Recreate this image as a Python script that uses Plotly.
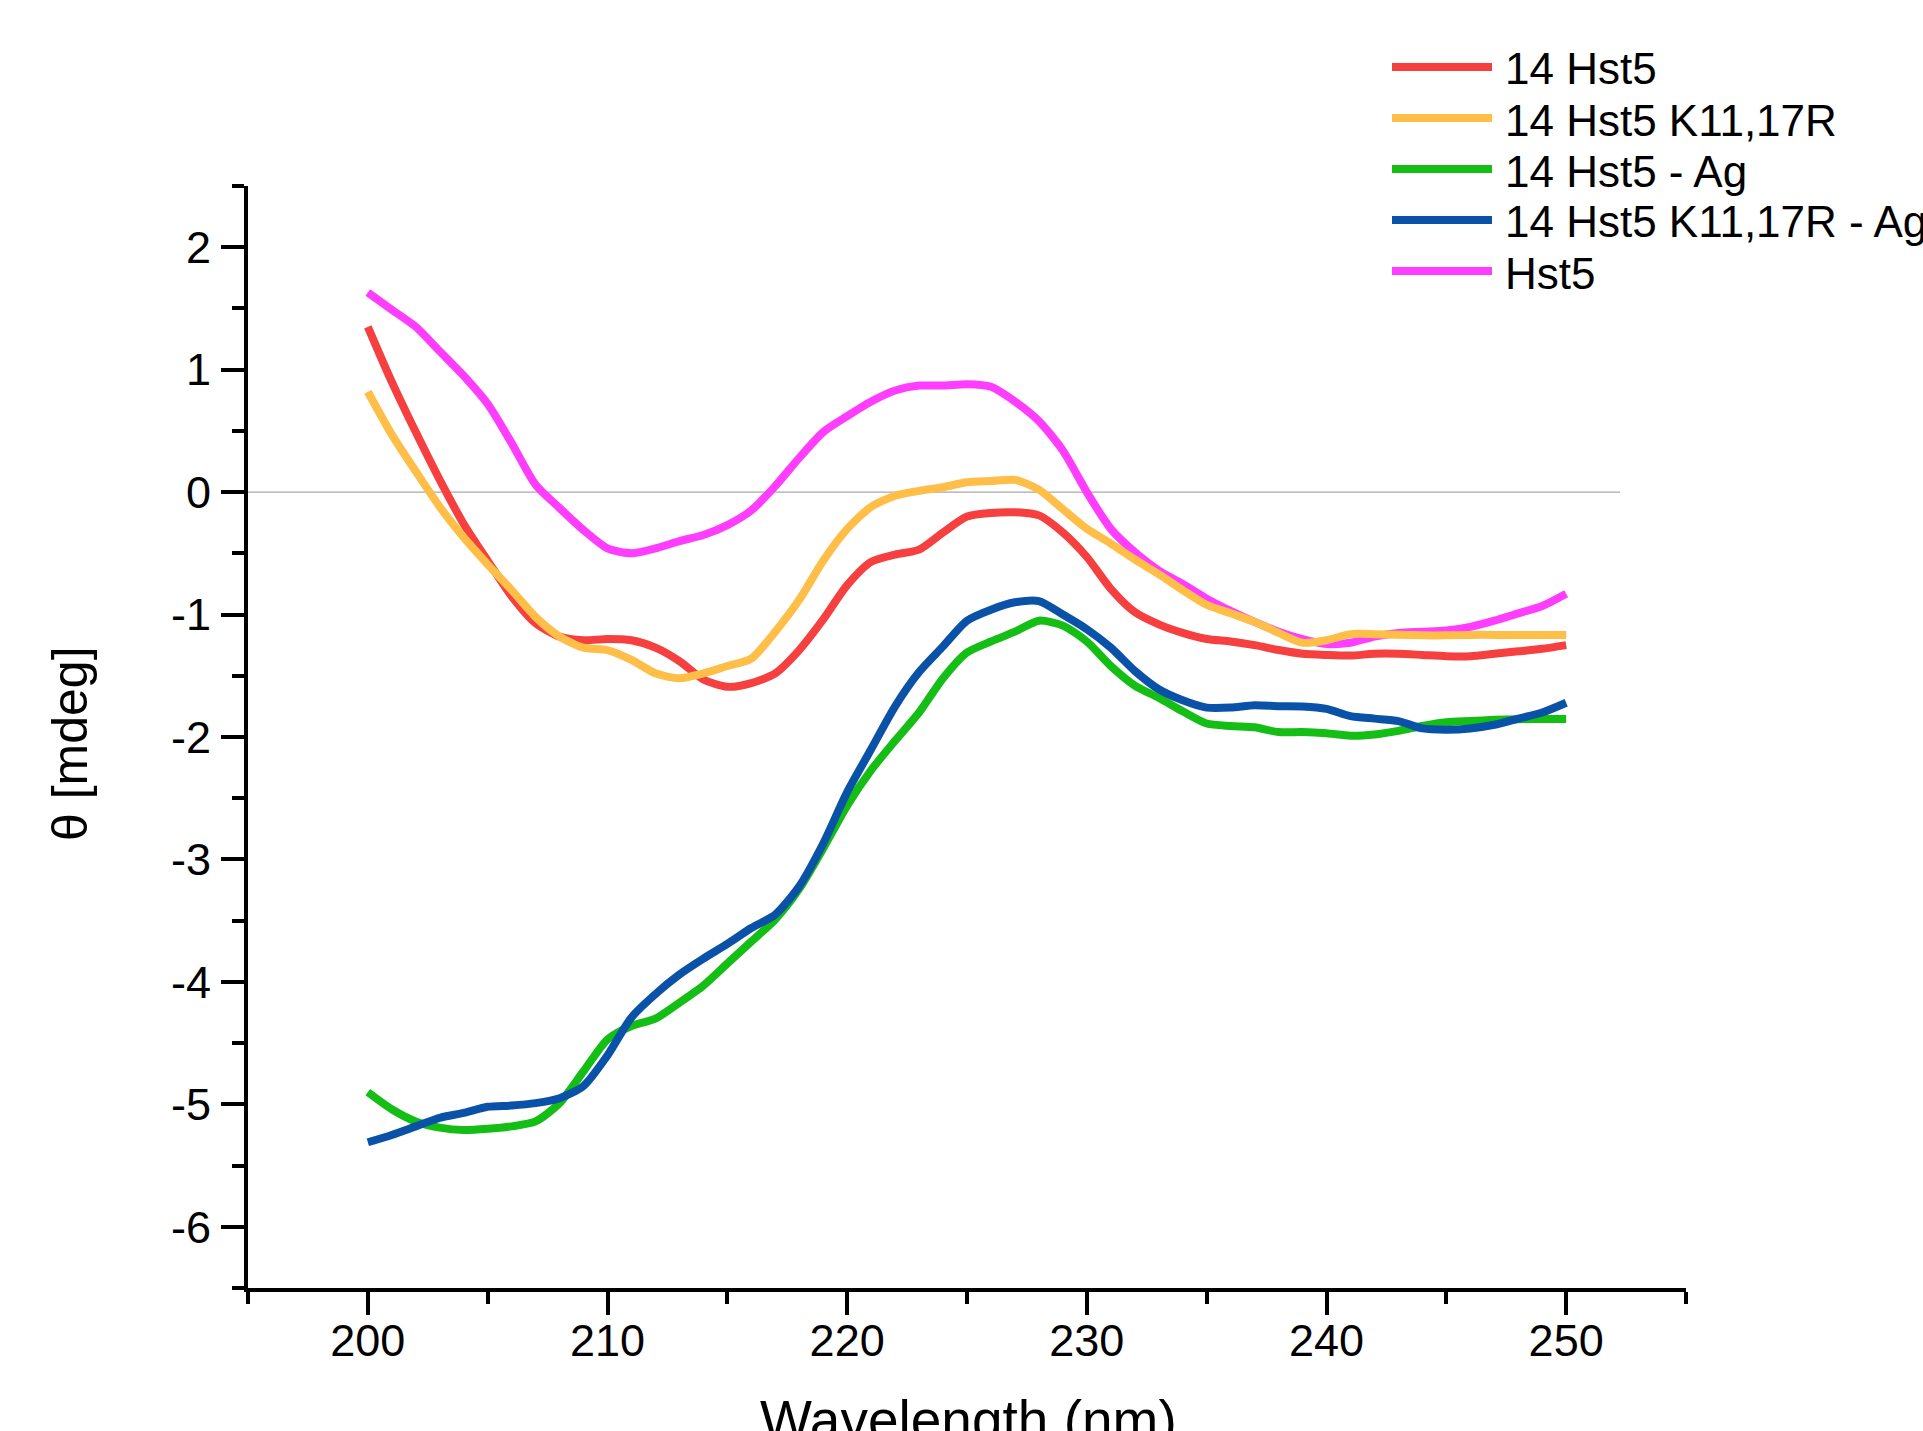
import plotly.graph_objects as go

wavelength = list(range(200, 251))

hst5_14 = [1.35, 0.90, 0.49, 0.10, -0.26, -0.56, -0.85, -1.07, -1.18, -1.21,
           -1.20, -1.21, -1.27, -1.38, -1.53, -1.59, -1.56, -1.48, -1.29, -1.04,
           -0.76, -0.57, -0.51, -0.47, -0.33, -0.20, -0.17, -0.165, -0.19, -0.33,
           -0.53, -0.79, -0.98, -1.08, -1.15, -1.20, -1.22, -1.25, -1.29, -1.32,
           -1.33, -1.335, -1.32, -1.32, -1.33, -1.34, -1.34, -1.32, -1.30, -1.28,
           -1.25]

hst5_14_k = [0.82, 0.47, 0.17, -0.12, -0.37, -0.59, -0.80, -1.02, -1.18, -1.27,
             -1.29, -1.37, -1.48, -1.52, -1.48, -1.42, -1.36, -1.14, -0.88, -0.56,
             -0.30, -0.12, -0.03, 0.01, 0.04, 0.08, 0.09, 0.10, 0.02, -0.14,
             -0.30, -0.42, -0.55, -0.67, -0.80, -0.92, -0.99, -1.06, -1.15, -1.23,
             -1.21, -1.16, -1.16, -1.165, -1.17, -1.17, -1.166, -1.166, -1.166, -1.166,
             -1.166]

hst5_14_ag = [-4.90, -5.04, -5.14, -5.19, -5.21, -5.20, -5.18, -5.14, -4.99, -4.73,
              -4.47, -4.36, -4.30, -4.17, -4.03, -3.85, -3.67, -3.49, -3.24, -2.91,
              -2.56, -2.27, -2.03, -1.80, -1.52, -1.31, -1.22, -1.14, -1.05, -1.09,
              -1.22, -1.42, -1.58, -1.68, -1.79, -1.89, -1.91, -1.92, -1.96, -1.96,
              -1.97, -1.99, -1.98, -1.95, -1.91, -1.88, -1.87, -1.86, -1.855, -1.852,
              -1.852]

hst5_14_k_ag = [-5.31, -5.25, -5.18, -5.11, -5.07, -5.02, -5.01, -4.99, -4.95, -4.85,
                -4.60, -4.29, -4.10, -3.94, -3.81, -3.69, -3.56, -3.45, -3.22, -2.87,
                -2.45, -2.10, -1.75, -1.47, -1.26, -1.05, -0.96, -0.90, -0.89, -1.00,
                -1.12, -1.27, -1.46, -1.61, -1.70, -1.76, -1.76, -1.74, -1.748, -1.75,
                -1.77, -1.83, -1.85, -1.87, -1.93, -1.94, -1.93, -1.90, -1.85, -1.80,
                -1.72]

hst5 = [1.63, 1.49, 1.35, 1.15, 0.95, 0.72, 0.40, 0.06, -0.13, -0.31,
        -0.46, -0.50, -0.46, -0.40, -0.35, -0.27, -0.15, 0.05, 0.28, 0.49,
        0.62, 0.74, 0.83, 0.87, 0.87, 0.88, 0.86, 0.74, 0.58, 0.34,
        0.00, -0.30, -0.49, -0.64, -0.75, -0.87, -0.97, -1.06, -1.14, -1.20,
        -1.24, -1.23, -1.18, -1.15, -1.14, -1.13, -1.10, -1.05, -0.99, -0.93,
        -0.83]

series_names = ["14 Hst5", "14 Hst5 K11,17R", "14 Hst5 - Ag", "14 Hst5 K11,17R - Ag", "Hst5"]
series_values = [hst5_14, hst5_14_k, hst5_14_ag, hst5_14_k_ag, hst5]
series_colors = ["#F5403F", "#FEBE47", "#14BE14", "#0A52A8", "#FF3DFF"]

x_ticks = [200, 210, 220, 230, 240, 250]
x_minor = [195, 205, 215, 225, 235, 245, 255]
y_ticks = [2, 1, 0, -1, -2, -3, -4, -5, -6]
y_minor = [2.5, 1.5, 0.5, -0.5, -1.5, -2.5, -3.5, -4.5, -5.5, -6.5]

FONT = "Liberation Sans, Arial, sans-serif"

fig = go.Figure()
draw_order = [4, 0, 1, 2, 3]
for i in draw_order:
    fig.add_trace(go.Scatter(
        x=wavelength, y=series_values[i], name=series_names[i], mode="lines",
        line=dict(color=series_colors[i], width=8, shape="spline", smoothing=0.7),
        showlegend=False,
    ))

# zero line
fig.add_shape(type="line", xref="x", yref="y", x0=195, x1=252.25, y0=0, y1=0,
              line=dict(color="#A8A8A8", width=1.2), layer="below")

# manual legend
W, H = 1923, 1431
L, R, T, B = 248, 237, 186, 143
pw, ph = W - L - R, H - T - B
def px(xpix):
    return (xpix - L) / pw
def py(ypix):
    return (H - B - ypix) / ph

leg_y = [67, 118, 169, 220, 271]
for name, col, yy in zip(series_names, series_colors, leg_y):
    fig.add_shape(type="line", xref="paper", yref="paper",
                  x0=px(1392), x1=px(1492), y0=py(yy), y1=py(yy),
                  line=dict(color=col, width=8))
    fig.add_annotation(xref="paper", yref="paper", x=px(1503), y=py(yy + 2),
                       text=name, showarrow=False, xanchor="left", yanchor="middle",
                       font=dict(family=FONT, size=44, color="black"))

# axis titles
fig.add_annotation(xref="paper", yref="paper", x=px(70), y=py(744),
                   text="θ [mdeg]", textangle=-90, showarrow=False,
                   xanchor="center", yanchor="middle",
                   font=dict(family=FONT, size=50, color="black"))
fig.add_annotation(xref="paper", yref="paper", x=px(968), y=py(1420),
                   text="Wavelength (nm)", showarrow=False,
                   xanchor="center", yanchor="middle",
                   font=dict(family=FONT, size=55, color="black"))

fig.update_layout(
    width=W, height=H,
    margin=dict(l=L, r=R, t=T, b=B, autoexpand=False),
    plot_bgcolor="white", paper_bgcolor="white",
    showlegend=False,
    font=dict(family=FONT, color="black"),
)
fig.update_xaxes(
    range=[195, 255], tickmode="array", tickvals=x_ticks, ticktext=[str(v) for v in x_ticks],
    ticks="outside", ticklen=23, tickwidth=4, tickcolor="black",
    showline=True, linewidth=4, linecolor="black", mirror=False,
    showgrid=False, zeroline=False,
    tickfont=dict(family=FONT, size=45, color="black"),
    ticklabelstandoff=-13,
    minor=dict(tickmode="array", tickvals=x_minor,
               ticks="outside", ticklen=12, tickwidth=4, tickcolor="black"),
)
fig.update_yaxes(
    range=[-6.5, 2.5], tickmode="array", tickvals=y_ticks, ticktext=[str(v) for v in y_ticks],
    ticks="outside", ticklen=23, tickwidth=4, tickcolor="black",
    showline=True, linewidth=4, linecolor="black", mirror=False,
    showgrid=False, zeroline=False,
    tickfont=dict(family=FONT, size=45, color="black"),
    ticklabelstandoff=1,
    minor=dict(tickmode="array", tickvals=y_minor,
               ticks="outside", ticklen=12, tickwidth=4, tickcolor="black"),
)

fig.write_html("out.html", config={"displayModeBar": False},
               post_script="document.body.style.margin='0';")
